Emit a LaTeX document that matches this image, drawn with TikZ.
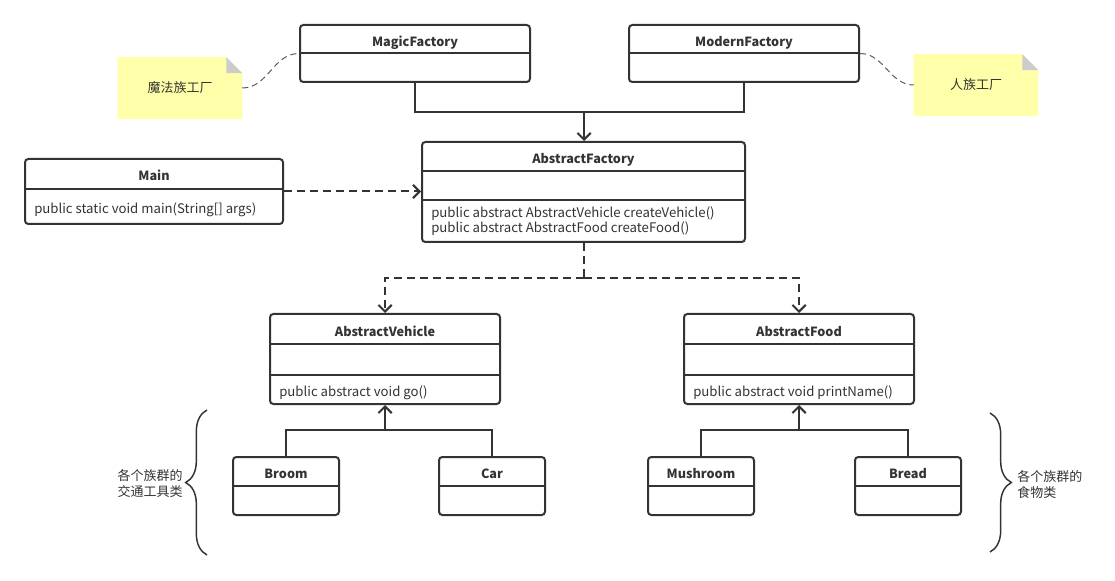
\documentclass[tikz,border=0pt]{standalone}
\usepackage{fontspec}
\setmainfont{Noto Sans CJK SC}
\usetikzlibrary{arrows.meta,positioning,fit,calc,backgrounds,decorations.pathreplacing}
\definecolor{linegray}{HTML}{333333}
\definecolor{notebg}{HTML}{FFFFAA}
\definecolor{foldgray}{HTML}{CCCCCC}

\begin{document}
\begin{tikzpicture}[
    x=0.75pt, y=-0.75pt,
    classbox/.style={draw=linegray, line width=1.5pt, rounded corners=2.5pt, inner sep=0pt, fit={#1}},
    classline/.style={draw=linegray, line width=1.5pt},
    title/.style={font=\fontsize{9.5}{11}\selectfont\bfseries, text=linegray, inner sep=0pt, anchor=base},
    method/.style={font=\fontsize{9.9}{11.25}\selectfont, text=linegray, inner sep=0pt, anchor=base west, align=left},
    inherit/.style={classline, -{Straight Barb[length=5pt, width=10pt]}},
    dashline/.style={classline, dash pattern=on 6pt off 3.75pt},
    depend/.style={dashline, -{Straight Barb[length=5pt, width=10pt]}},
    notebox/.style={minimum width=93pt, minimum height=45.75pt, inner sep=0pt, font=\fontsize{9.75}{12}\selectfont, text=linegray},
    notelink/.style={draw=linegray!80, line width=0.75pt, dash pattern=on 4.5pt off 3pt},
    bracestyle/.style={draw=linegray, line width=1.1pt, decorate, decoration={brace, amplitude=16pt}},
    bracetext/.style={font=\fontsize{9.75}{12}\selectfont, text=linegray, align=left, inner sep=0pt}
]
    \useasboundingbox (0,0) rectangle (1115,581);

    % Concrete factories
    \node[classbox={(300,25) (530,82)}] (magic) {};
    \node[title] (magic_t) at ($(magic.north)+(0,23)$) {MagicFactory};
    \draw[classline] ($(magic.north west)+(0,29)$) -- ($(magic.north east)+(0,29)$);

    \node[classbox={(629,25) (859,82)}] (modern) {};
    \node[title] (modern_t) at ($(modern.north)+(0,23)$) {ModernFactory};
    \draw[classline] ($(modern.north west)+(0,29)$) -- ($(modern.north east)+(0,29)$);

    % Notes
    \node[notebox] (note_magic) at (180,88) {魔法族工厂};
    \node[notebox] (note_human) at (976,85) {人族工厂};
    \begin{scope}[on background layer]
        \foreach \n in {note_magic, note_human} {
            \fill[notebg] (\n.south west) -- (\n.north west) -- ([xshift=-12pt]\n.north east)
                -- ([yshift=-12pt]\n.north east) -- (\n.south east) -- cycle;
            \fill[foldgray] ([xshift=-12pt]\n.north east) -- ([xshift=-12pt, yshift=-12pt]\n.north east)
                -- ([yshift=-12pt]\n.north east) -- cycle;
        }
    \end{scope}
    \draw[notelink] (note_magic.east) to[out=0, in=180] (magic.west);
    \draw[notelink] (modern.east) to[out=0, in=180] (note_human.west);

    % Abstract factory and client
    \node[classbox={(422,142) (745,242)}] (absfac) {};
    \node[title] (absfac_t) at ($(absfac.north)+(0,23)$) {AbstractFactory};
    \draw[classline] ($(absfac.north west)+(0,30)$) -- ($(absfac.north east)+(0,30)$);
    \draw[classline] ($(absfac.north west)+(0,59)$) -- ($(absfac.north east)+(0,59)$);
    \node[method] (absfac_m) at ($(absfac.north west)+(10,92)$) {public abstract AbstractVehicle createVehicle()\\public abstract AbstractFood createFood()};

    \node[classbox={(25,159) (283,224)}] (main) {};
    \node[title] (main_t) at ($(main.north)+(0,23)$) {Main};
    \draw[classline] ($(main.north west)+(0,31)$) -- ($(main.north east)+(0,31)$);
    \node[method] (main_m) at ($(main.north west)+(10,56)$) {public static void main(String[] args)};

    % Abstract products
    \node[classbox={(270,314) (500,404)}] (vehicle) {};
    \node[title] (vehicle_t) at ($(vehicle.north)+(0,23)$) {AbstractVehicle};
    \draw[classline] ($(vehicle.north west)+(0,31)$) -- ($(vehicle.north east)+(0,31)$);
    \draw[classline] ($(vehicle.north west)+(0,62)$) -- ($(vehicle.north east)+(0,62)$);
    \node[method] (vehicle_m) at ($(vehicle.north west)+(10,84)$) {public abstract void go()};

    \node[classbox={(684,314) (914,404)}] (food) {};
    \node[title] (food_t) at ($(food.north)+(0,23)$) {AbstractFood};
    \draw[classline] ($(food.north west)+(0,31)$) -- ($(food.north east)+(0,31)$);
    \draw[classline] ($(food.north west)+(0,62)$) -- ($(food.north east)+(0,62)$);
    \node[method] (food_m) at ($(food.north west)+(10,84)$) {public abstract void printName()};

    % Concrete products
    \node[classbox={(233,457) (339,515)}] (broom) {};
    \node[classbox={(439,457) (545,515)}] (car) {};
    \node[classbox={(648,457) (754,515)}] (mushroom) {};
    \node[classbox={(855,457) (961,515)}] (bread) {};
    \foreach \n/\t in {broom/Broom, car/Car, mushroom/Mushroom, bread/Bread} {
        \node[title] (\n_t) at ($(\n.north)+(0,22.5)$) {\t};
        \draw[classline] ($(\n.north west)+(0,30)$) -- ($(\n.north east)+(0,30)$);
    }

    % Inheritance
    \coordinate (fac_join) at (584,112);
    \draw[classline] (magic.south) |- (fac_join) -| (modern.south);
    \draw[inherit] (fac_join) -- (fac_join |- absfac.north);

    \coordinate (veh_join) at (385,430);
    \draw[classline] (broom.north) |- (veh_join) -| (car.north);
    \draw[inherit] (veh_join) -- (veh_join |- vehicle.south);

    \coordinate (food_join) at (799,430);
    \draw[classline] (mushroom.north) |- (food_join) -| (bread.north);
    \draw[inherit] (food_join) -- (food_join |- food.south);

    % Dependencies
    \draw[depend] (main.east) -- (main.east -| absfac.west);
    \coordinate (prod_join) at (584,278);
    \draw[dashline] (absfac.south -| prod_join) -- (prod_join);
    \draw[depend] (prod_join) -| (vehicle.north);
    \draw[depend] (prod_join) -| (food.north);

    % Braces
    \draw[bracestyle] (207,555) -- (207,410);
    \node[bracetext, anchor=east] (veh_label) at (183,484) {各个族群的\\交通工具类};
    \draw[bracestyle] (990,413) -- (990,552);
    \node[bracetext, anchor=west] (food_label) at (1017,485) {各个族群的\\食物类};
\end{tikzpicture}
\end{document}
